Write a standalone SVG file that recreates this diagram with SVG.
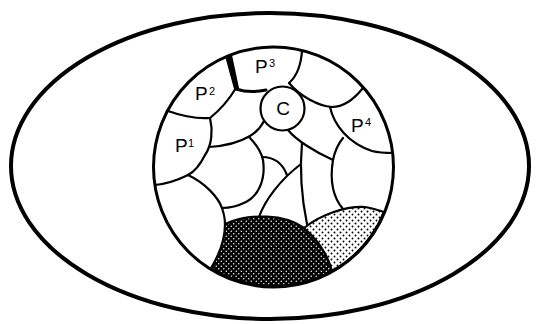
<svg xmlns="http://www.w3.org/2000/svg" width="536" height="324" viewBox="0 0 536 324">
<style>
.ln{fill:none;stroke:#000;stroke-width:2.2;stroke-linecap:round;stroke-linejoin:round}
.lb{font-family:"Liberation Sans",Arial,sans-serif;font-size:19px;fill:#000}
.sp{font-family:"Liberation Sans",Arial,sans-serif;font-size:11px;fill:#000}
</style>
<defs>
<pattern id="dk" width="5" height="5" patternUnits="userSpaceOnUse">
<rect width="5" height="5" fill="#000"/>
<circle cx="1.25" cy="1.25" r="0.75" fill="#fff"/>
<circle cx="3.75" cy="3.75" r="0.75" fill="#fff"/>
</pattern>
<pattern id="dt" width="6" height="6" patternUnits="userSpaceOnUse">
<rect width="6" height="6" fill="#fff"/>
<circle cx="1.5" cy="1.5" r="0.95" fill="#000"/>
<circle cx="4.5" cy="4.5" r="0.95" fill="#000"/>
</pattern>
</defs>
<rect width="536" height="324" fill="#fff"/>
<g id="outer">
<ellipse cx="270" cy="166" rx="259" ry="153" fill="none" stroke="#000" stroke-width="4"/>
</g>
<g id="regions">
<path id="dark" d="M211,268 C219,255 225,240 225,224 C250,213 285,214 304,228 C318,240 328,256 332,271 A120,120 0 0 1 211,268 Z" fill="url(#dk)" stroke="#000" stroke-width="2.2"/>
<path id="dotted" d="M304,228 C320,215 345,206 365,207 C372,208 378,210 384,212 A120,120 0 0 1 332,271 C328,256 318,240 304,228 Z" fill="url(#dt)" stroke="#000" stroke-width="2.2"/>
</g>
<g id="connectors">
<path class="ln" d="M168,111 C182,116 197,119 210,118"/>
<path class="ln" d="M210,118 C220,110 230,98 236,88"/>
<polygon points="225,56 232,55 239,88 234,89" fill="#000"/>
<path class="ln" style="stroke-width:3" d="M236,89 C245,92 257,92 266,90"/>
<path class="ln" d="M302,51 C301,65 297,76 289,83"/>
<path class="ln" d="M289,83 C300,96 318,106 332,107 C345,107 355,98 363,88"/>
<path class="ln" d="M330,107 C334,125 348,143 372,151 C380,153 387,153 393,153"/>
<path class="ln" d="M210,118 C213,130 212,145 205,155 C200,165 194,172 188,175"/>
<path class="ln" d="M155,185 C165,184 178,180 188,175"/>
<path class="ln" d="M209,147 C225,146 240,142 250,136 C255,133 260,129 264,121"/>
<path class="ln" d="M249,137 C256,144 261,151 263,160 C266,180 258,196 246,202 C238,206 230,208 222,208"/>
<path class="ln" d="M262,157 C272,157 282,162 287,175"/>
<path class="ln" d="M188,175 C205,183 218,197 222,208 C224,214 225,219 225,224"/>
<path class="ln" d="M259,217 C265,200 280,180 301,164"/>
<path class="ln" d="M302,143 C300,165 301,195 307,224"/>
<path class="ln" d="M288,130 C296,140 315,152 333,160"/>
<path class="ln" d="M333,160 C335,150 338,144 343,138"/>
<path class="ln" d="M333,160 C330,178 332,196 343,209"/>
</g>
<g id="cell">
<circle cx="273.5" cy="167" r="120" fill="none" stroke="#000" stroke-width="3"/>
</g>
<g id="C">
<circle cx="282.5" cy="108.5" r="22" fill="#fff" stroke="#000" stroke-width="2.2"/>
<text class="lb" x="283" y="115" text-anchor="middle">C</text>
</g>
<g id="P1"><text class="lb" x="175" y="152">P</text><text class="sp" x="188" y="147">1</text></g>
<g id="P2"><text class="lb" x="195" y="100">P</text><text class="sp" x="209" y="95">2</text></g>
<g id="P3"><text class="lb" x="255" y="73">P</text><text class="sp" x="269" y="67">3</text></g>
<g id="P4"><text class="lb" x="351" y="132">P</text><text class="sp" x="365" y="126">4</text></g>
</svg>
